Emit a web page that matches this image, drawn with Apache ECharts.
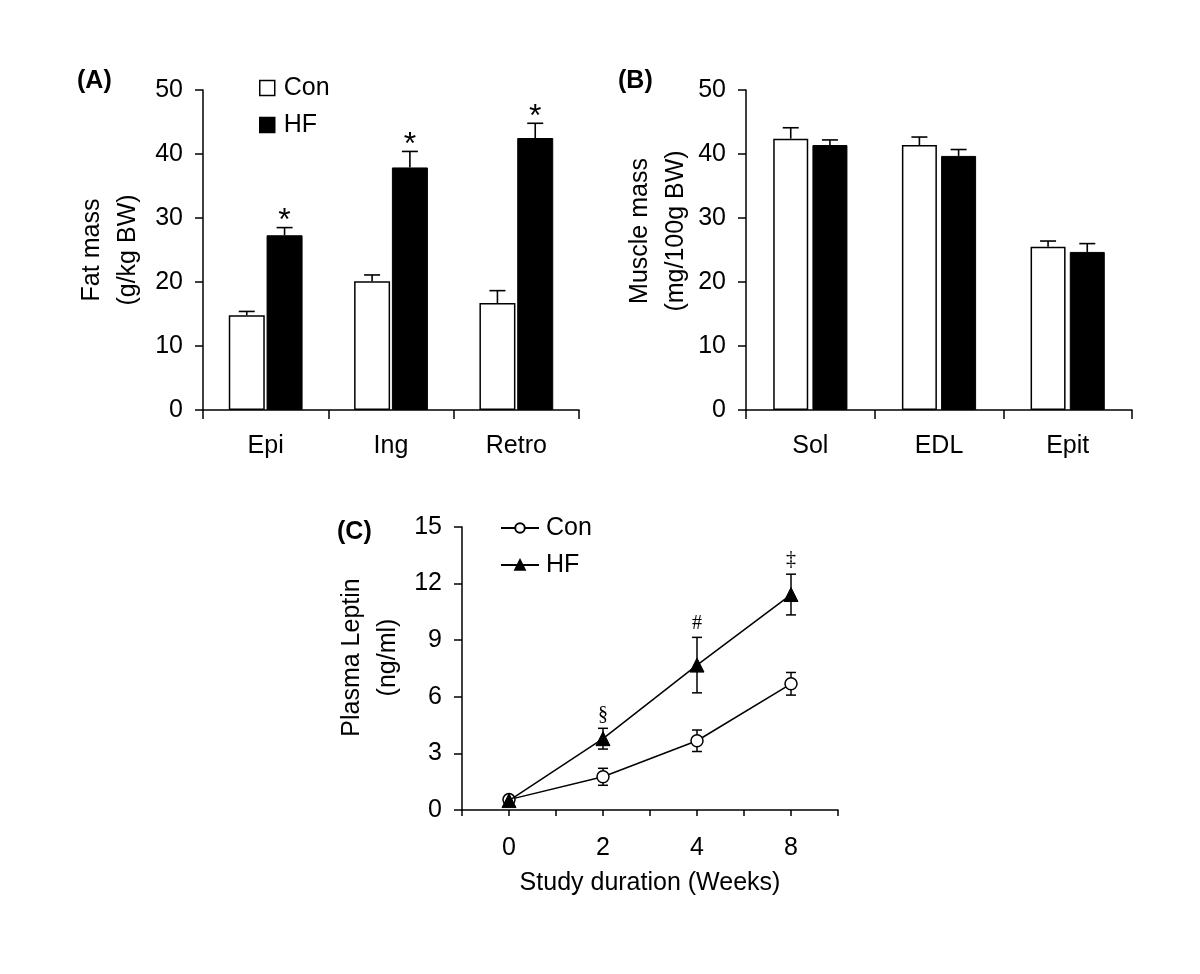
<!DOCTYPE html>
<html>
<head>
<meta charset="utf-8">
<script src="https://cdn.jsdelivr.net/npm/echarts@6/dist/echarts.min.js"></script>
<style>
html,body{margin:0;padding:0;background:#fff;}
#chart{width:1200px;height:974px;}
</style>
</head>
<body>
<div id="chart"></div>
<script>
// ---- Data ----
const catsA = ['Epi', 'Ing', 'Retro'];
const fatCon = [14.8, 20.1, 16.7];
const fatConErr = [0.6, 1.0, 1.95];
const fatHF = [27.3, 37.9, 42.5];
const fatHFErr = [1.2, 2.5, 2.3];
const sigA = ['*', '*', '*'];

const catsB = ['Sol', 'EDL', 'Epit'];
const musCon = [42.4, 41.4, 25.5];
const musConErr = [1.7, 1.25, 0.9];
const musHF = [41.4, 39.7, 24.7];
const musHFErr = [0.8, 1.0, 1.3];

const weeks = ['0', '2', '4', '8'];
const lepCon = [0.55, 1.76, 3.67, 6.69];
const lepConErr = [0, 0.45, 0.57, 0.6];
const lepHF = [0.5, 3.78, 7.68, 11.42];
const lepHFErr = [0, 0.55, 1.47, 1.08];
const sigC = ['', '§', '#', '‡'];

const yAxisAB = {min: 0, max: 50, interval: 10};
const yAxisC = {min: 0, max: 15, interval: 3};

// ---- Styles ----
const FONT = 'Liberation Sans, Arial, Helvetica, sans-serif';
const FS = 25;
const black = '#000';
const axisLine = {show: true, lineStyle: {color: black, width: 1.5}};

function barErr(offset, sig) {
  return function (params, api) {
    const i = api.value(0), v = api.value(1), e = api.value(2);
    const base = api.coord([i, v]);
    const top = api.coord([i, v + e]);
    const x = base[0] + offset;
    const st = {stroke: black, lineWidth: 1.6};
    const ch = [
      {type: 'line', shape: {x1: x, y1: base[1], x2: x, y2: top[1]}, style: st},
      {type: 'line', shape: {x1: x - 8, y1: top[1], x2: x + 8, y2: top[1]}, style: st}
    ];
    if (sig && sig[params.dataIndex]) {
      ch.push({type: 'text', style: {text: sig[params.dataIndex], x: x, y: top[1] - 6,
        align: 'center', verticalAlign: 'middle', font: '32px ' + FONT, fill: black}});
    }
    return {type: 'group', children: ch};
  };
}

function lineErr(sig) {
  return function (params, api) {
    const i = api.value(0), v = api.value(1), e = api.value(2);
    const hi = api.coord([i, v + e]);
    const lo = api.coord([i, v - e]);
    const x = hi[0];
    const st = {stroke: black, lineWidth: 1.5};
    const ch = [];
    if (e > 0) {
      ch.push({type: 'line', shape: {x1: x, y1: lo[1], x2: x, y2: hi[1]}, style: st});
      ch.push({type: 'line', shape: {x1: x - 5, y1: hi[1], x2: x + 5, y2: hi[1]}, style: st});
      ch.push({type: 'line', shape: {x1: x - 5, y1: lo[1], x2: x + 5, y2: lo[1]}, style: st});
    }
    if (sig && sig[params.dataIndex]) {
      ch.push({type: 'text', style: {text: sig[params.dataIndex], x: x, y: hi[1] - 14,
        align: 'center', verticalAlign: 'middle', font: '20px Liberation Serif, Times New Roman, serif', fill: black}});
    }
    return {type: 'group', children: ch};
  };
}

const bwA = 36, gapA = 0.05;
const offA = (bwA * (1 + gapA)) / 2;
const bwB = 35, gapB = 0.12;
const offB = (bwB * (1 + gapB)) / 2;

function catAxis(gridIndex, data, extra) {
  return Object.assign({
    type: 'category', gridIndex: gridIndex, data: data, boundaryGap: true, position: 'bottom',
    axisLine: axisLine,
    axisTick: {show: true, length: 9, lineStyle: {color: black, width: 1.5}},
    axisLabel: {color: black, fontSize: FS, fontFamily: FONT, margin: 24},
    splitLine: {show: false}
  }, extra || {});
}
function valAxis(gridIndex, cfg, name, gap, pad) {
  return {
    type: 'value', gridIndex: gridIndex, min: cfg.min, max: cfg.max, interval: cfg.interval,
    name: name, nameLocation: 'middle', nameGap: gap, nameRotate: 90,
    nameTextStyle: {color: black, fontSize: FS, fontFamily: FONT, lineHeight: 36, padding: pad},
    axisLine: axisLine,
    axisTick: {show: true, length: 8, lineStyle: {color: black, width: 1.5}},
    axisLabel: {color: black, fontSize: FS, fontFamily: FONT, margin: 20},
    splitLine: {show: false}
  };
}

const option = {
  animation: false,
  backgroundColor: '#fff',
  textStyle: {fontFamily: FONT},
  title: [
    {text: '(A)', left: 77, top: 69, padding: 0, textStyle: {fontSize: FS, fontWeight: 'bold', color: black, fontFamily: FONT}},
    {text: '(B)', left: 618, top: 69, padding: 0, textStyle: {fontSize: FS, fontWeight: 'bold', color: black, fontFamily: FONT}},
    {text: '(C)', left: 337, top: 520, padding: 0, textStyle: {fontSize: FS, fontWeight: 'bold', color: black, fontFamily: FONT}}
  ],
  legend: [
    {
      orient: 'vertical', left: 259, top: 75.5, padding: 0, itemGap: 12,
      itemWidth: 15, itemHeight: 15, icon: 'rect', selectedMode: false,
      textStyle: {fontSize: FS, fontFamily: FONT, color: black, lineHeight: 25, padding: [0, 0, 0, 4]},
      data: [
        {name: 'Con', itemStyle: {color: '#fff', borderColor: black, borderWidth: 1.5}},
        {name: 'HF', itemStyle: {color: black, borderColor: black, borderWidth: 1.5}}
      ]
    },
    {
      orient: 'vertical', left: 500, top: 515.5, padding: 0, itemGap: 12,
      itemWidth: 38, itemHeight: 12, selectedMode: false,
      formatter: function (n) { return n.replace('Leptin-', ''); },
      textStyle: {fontSize: FS, fontFamily: FONT, color: black, lineHeight: 25, padding: [0, 0, 0, 2]},
      data: ['Leptin-Con', 'Leptin-HF']
    }
  ],
  grid: [
    {left: 203, top: 90, width: 376, height: 320},
    {left: 746, top: 90, width: 386, height: 320},
    {left: 462, top: 527, width: 376, height: 283}
  ],
  xAxis: [
    catAxis(0, catsA),
    catAxis(1, catsB),
    catAxis(2, weeks, {axisTick: {show: true, length: 6, lineStyle: {color: black, width: 1.5}}, axisLabel: {color: black, fontSize: FS, fontFamily: FONT, margin: 26}, name: 'Study duration (Weeks)', nameLocation: 'middle', nameGap: 61, nameTextStyle: {color: black, fontSize: FS, fontFamily: FONT}}),
    catAxis(2, weeks, {axisLine: {show: false}, axisLabel: {show: false}, axisTick: {show: true, alignWithLabel: true, length: 6, lineStyle: {color: black, width: 1.5}}})
  ],
  yAxis: [
    valAxis(0, yAxisAB, 'Fat mass\n(g/kg BW)', 57, [0, 0, 0, 0]),
    valAxis(1, yAxisAB, 'Muscle mass\n(mg/100g BW)', 51, [0, 0, 0, 38]),
    valAxis(2, yAxisC, 'Plasma Leptin\n(ng/ml)', 56, [0, 0, 0, 22])
  ],
  series: [
    {name: 'Con', type: 'bar', xAxisIndex: 0, yAxisIndex: 0, data: fatCon, barWidth: bwA, barGap: (gapA * 100) + '%',
      itemStyle: {color: '#fff', borderColor: black, borderWidth: 1.5}},
    {name: 'HF', type: 'bar', xAxisIndex: 0, yAxisIndex: 0, data: fatHF, barWidth: bwA, barGap: (gapA * 100) + '%',
      itemStyle: {color: black, borderColor: black, borderWidth: 1}},
    {type: 'custom', xAxisIndex: 0, yAxisIndex: 0, z: 5, renderItem: barErr(-offA, null),
      data: fatCon.map((v, i) => [i, v, fatConErr[i]])},
    {type: 'custom', xAxisIndex: 0, yAxisIndex: 0, z: 5, renderItem: barErr(offA, sigA),
      data: fatHF.map((v, i) => [i, v, fatHFErr[i]])},

    {name: 'Con', type: 'bar', xAxisIndex: 1, yAxisIndex: 1, data: musCon, barWidth: bwB, barGap: (gapB * 100) + '%',
      itemStyle: {color: '#fff', borderColor: black, borderWidth: 1.5}},
    {name: 'HF', type: 'bar', xAxisIndex: 1, yAxisIndex: 1, data: musHF, barWidth: bwB, barGap: (gapB * 100) + '%',
      itemStyle: {color: black, borderColor: black, borderWidth: 1}},
    {type: 'custom', xAxisIndex: 1, yAxisIndex: 1, z: 5, renderItem: barErr(-offB, null),
      data: musCon.map((v, i) => [i, v, musConErr[i]])},
    {type: 'custom', xAxisIndex: 1, yAxisIndex: 1, z: 5, renderItem: barErr(offB, null),
      data: musHF.map((v, i) => [i, v, musHFErr[i]])},

    {type: 'custom', xAxisIndex: 2, yAxisIndex: 2, z: 1, renderItem: lineErr(null),
      data: lepCon.map((v, i) => [i, v, lepConErr[i]])},
    {type: 'custom', xAxisIndex: 2, yAxisIndex: 2, z: 1, renderItem: lineErr(sigC),
      data: lepHF.map((v, i) => [i, v, lepHFErr[i]])},
    {name: 'Leptin-Con', type: 'line', xAxisIndex: 2, yAxisIndex: 2, z: 3, data: lepCon,
      symbol: 'circle', symbolSize: 12, showAllSymbol: true,
      lineStyle: {color: black, width: 1.5},
      itemStyle: {color: '#fff', borderColor: black, borderWidth: 1.5}},
    {name: 'Leptin-HF', type: 'line', xAxisIndex: 2, yAxisIndex: 2, z: 4, data: lepHF,
      symbol: 'triangle', symbolSize: 14, showAllSymbol: true,
      lineStyle: {color: black, width: 1.5},
      itemStyle: {color: black, borderColor: black, borderWidth: 1}}
  ]
};

const chart = echarts.init(document.getElementById('chart'), null, {renderer: 'canvas'});
chart.setOption(option);
</script>
</body>
</html>
